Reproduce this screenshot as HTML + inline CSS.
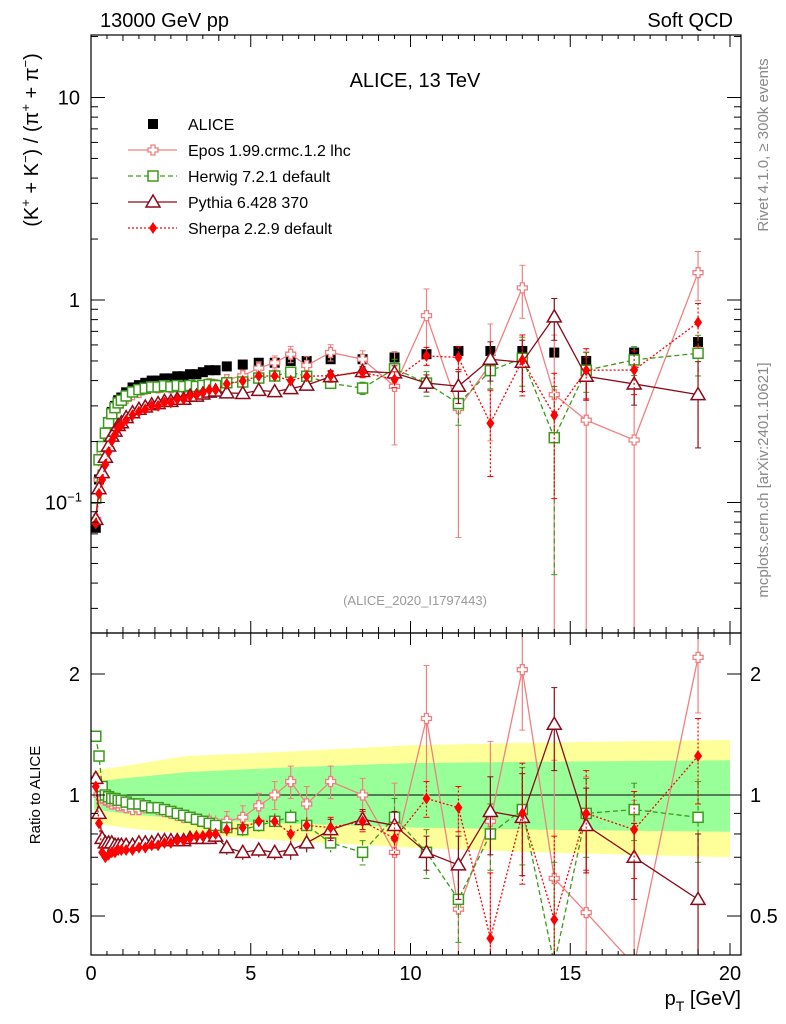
<!DOCTYPE html>
<html><head><meta charset="utf-8"><style>
html,body{margin:0;padding:0;background:#fff;overflow:hidden;width:786px;height:1024px}
svg{display:block}
svg text{font-family:"Liberation Sans",sans-serif}
</style></head><body>
<svg id="c" width="786" height="1024" xmlns="http://www.w3.org/2000/svg">
<text x="100" y="27" font-size="20">13000 GeV pp</text>
<text x="733" y="27" font-size="20" text-anchor="end">Soft QCD</text>
<text x="415" y="87" font-size="20" text-anchor="middle">ALICE, 13 TeV</text>
<text x="415" y="605" font-size="13" fill="#999" text-anchor="middle">(ALICE_2020_I1797443)</text>
<text transform="translate(38,140) rotate(-90)" font-size="20" text-anchor="middle">(K<tspan dy="-8" font-size="13">+</tspan><tspan dy="8"> + K</tspan><tspan dy="-8" font-size="13">−</tspan><tspan dy="8">) / (π</tspan><tspan dy="-8" font-size="13">+</tspan><tspan dy="8"> + π</tspan><tspan dy="-8" font-size="13">−</tspan><tspan dy="8">)</tspan></text>
<text transform="translate(768,145) rotate(-90)" font-size="15" fill="#888" text-anchor="middle">Rivet 4.1.0, ≥ 300k events</text>
<text transform="translate(768,480) rotate(-90)" font-size="15" fill="#888" text-anchor="middle">mcplots.cern.ch [arXiv:2401.10621]</text>
<text transform="translate(40,795) rotate(-90)" font-size="15" text-anchor="middle">Ratio to ALICE</text>
<text x="741" y="1005" font-size="20" text-anchor="end">p<tspan dy="6" font-size="14">T</tspan><tspan dy="-6"> [GeV]</tspan></text>
<g id="g"></g>
</svg>
<script>
const xs=[0.15,0.25,0.35,0.45,0.55,0.65,0.75,0.85,0.95,1.1,1.3,1.5,1.7,1.9,2.1,2.3,2.5,2.7,2.9,3.1,3.3,3.5,3.7,3.9,4.25,4.75,5.25,5.75,6.25,6.75,7.5,8.5,9.5,10.5,11.5,12.5,13.5,14.5,15.5,17,19];
const alice=[0.075,0.13,0.18,0.22,0.25,0.28,0.30,0.32,0.33,0.35,0.37,0.38,0.39,0.40,0.40,0.41,0.41,0.42,0.42,0.43,0.43,0.44,0.45,0.45,0.47,0.48,0.49,0.49,0.50,0.50,0.51,0.51,0.52,0.54,0.56,0.56,0.56,0.55,0.50,0.55,0.62];
const eposR=[1.1,1.0,0.98,0.97,0.96,0.95,0.95,0.94,0.94,0.93,0.92,0.92,0.93,0.93,0.92,0.91,0.90,0.89,0.88,0.88,0.87,0.86,0.86,0.85,0.86,0.88,0.94,1.0,1.08,0.95,1.08,1.0,0.72,1.55,0.52,0.86,2.05,0.62,0.51,0.37,2.2];
const eposE=[0.02,0.02,0.02,0.02,0.02,0.02,0.02,0.02,0.02,0.02,0.02,0.02,0.02,0.02,0.02,0.02,0.02,0.03,0.03,0.03,0.03,0.03,0.04,0.04,0.05,0.06,0.07,0.08,0.1,0.1,0.1,0.1,0.35,0.55,0.4,0.5,0.6,0.6,0.6,0.6,0.6];
const herwigR=[1.4,1.25,1.05,1.0,0.99,0.98,0.98,0.97,0.97,0.96,0.95,0.95,0.94,0.93,0.93,0.92,0.91,0.90,0.89,0.88,0.87,0.86,0.85,0.84,0.83,0.82,0.84,0.86,0.88,0.84,0.76,0.72,0.88,0.72,0.55,0.80,0.92,0.38,0.90,0.92,0.88];
const herwigE=[0.02,0.02,0.02,0.02,0.02,0.02,0.02,0.02,0.02,0.02,0.02,0.02,0.02,0.02,0.02,0.02,0.02,0.02,0.02,0.02,0.02,0.02,0.02,0.02,0.03,0.03,0.03,0.04,0.04,0.04,0.04,0.05,0.1,0.1,0.12,0.15,0.25,0.3,0.2,0.15,0.2];
const pythiaR=[1.1,0.9,0.78,0.76,0.76,0.76,0.75,0.75,0.75,0.75,0.75,0.76,0.76,0.76,0.77,0.77,0.77,0.77,0.77,0.78,0.78,0.78,0.78,0.79,0.74,0.72,0.73,0.72,0.73,0.76,0.82,0.87,0.84,0.72,0.67,0.91,0.88,1.5,0.84,0.70,0.55];
const pythiaE=[0.02,0.02,0.02,0.02,0.02,0.02,0.02,0.02,0.02,0.02,0.02,0.02,0.02,0.02,0.02,0.02,0.02,0.02,0.02,0.02,0.02,0.02,0.02,0.02,0.03,0.03,0.03,0.03,0.04,0.04,0.05,0.05,0.07,0.07,0.12,0.2,0.25,0.35,0.2,0.15,0.25];
const sherpaR=[1.05,0.85,0.72,0.70,0.71,0.72,0.72,0.73,0.73,0.73,0.73,0.74,0.74,0.75,0.75,0.76,0.76,0.77,0.77,0.78,0.79,0.79,0.80,0.80,0.82,0.83,0.86,0.86,0.80,0.84,0.83,0.86,0.78,0.98,0.93,0.44,0.90,0.49,0.90,0.82,1.25];
const sherpaE=[0.02,0.02,0.02,0.02,0.02,0.02,0.02,0.02,0.02,0.02,0.02,0.02,0.02,0.02,0.02,0.02,0.02,0.02,0.02,0.02,0.02,0.02,0.02,0.02,0.03,0.03,0.03,0.03,0.04,0.04,0.05,0.05,0.07,0.1,0.12,0.2,0.3,0.3,0.25,0.2,0.3];
const bandX=[0.1,1,3,6,10,14,20];
const yellowLo=[0.85,0.83,0.80,0.77,0.74,0.72,0.70];
const yellowHi=[1.15,1.18,1.25,1.28,1.33,1.35,1.37];
const greenLo=[0.92,0.90,0.87,0.85,0.83,0.82,0.81];
const greenHi=[1.08,1.10,1.14,1.17,1.20,1.21,1.22];
const xTicks=[0,5,10,15,20];
const ratioTicks=[0.5,1,2];

const L=91,R=741,T1=35,B1=633,T2=633,B2=955;
const clamp=(v,a,b)=>Math.min(b,Math.max(a,v));
const X=v=>L+v*31.95;
const Y1=v=>clamp(300-Math.log10(Math.max(v,1e-6))*202.5,T1-10,B1+10);
const Y2=v=>clamp(795-Math.log10(Math.max(v,1e-6))*402,T2-10,B2+10);
const NS="http://www.w3.org/2000/svg";
const g=document.getElementById('g');
function mk(t,a,parent){const e=document.createElementNS(NS,t);for(const k in a)e.setAttribute(k,a[k]);(parent||g).appendChild(e);return e;}

const defs=mk('defs',{});
const c1=mk('clipPath',{id:'c1'},defs);mk('rect',{x:L,y:T1,width:R-L,height:B1-T1},c1);
const c2=mk('clipPath',{id:'c2'},defs);mk('rect',{x:L,y:T2,width:R-L,height:B2-T2},c2);

function band(lo,hi,col,name){let p='';bandX.forEach((x,i)=>p+=(i?'L':'M')+X(x)+','+Y2(hi[i]));for(let i=bandX.length-1;i>=0;i--)p+='L'+X(bandX[i])+','+Y2(lo[i]);const e=mk('path',{d:p+'Z',fill:col,'clip-path':'url(#c2)'});

}
band(yellowLo,yellowHi,'#ffff99','uncertainty-band-outer');
band(greenLo,greenHi,'#99ff99','uncertainty-band-inner');
const one=mk('line',{x1:L,x2:R,y1:Y2(1),y2:Y2(1),stroke:'#000','stroke-width':1});



function marker(type,x,y,col,parent){
 if(type==='sq')return mk('rect',{x:x-5,y:y-5,width:10,height:10,fill:'#000'},parent);
 if(type==='osq')return mk('rect',{x:x-5,y:y-5,width:10,height:10,fill:'#fff',stroke:col,'stroke-width':1.5},parent);
 if(type==='cross')return mk('path',{d:`M${x-2},${y-5}h4v3h3v4h-3v3h-4v-3h-3v-4h3z`,fill:'#fff',stroke:col,'stroke-width':1.3},parent);
 if(type==='tri')return mk('path',{d:`M${x},${y-7}L${x+7},${y+5}L${x-7},${y+5}Z`,fill:'#fff',stroke:col,'stroke-width':1.5},parent);
 if(type==='dia')return mk('path',{d:`M${x},${y-6}L${x+4},${y}L${x},${y+6}L${x-4},${y}Z`,fill:col},parent);
}
const models=[
 {n:'epos',r:eposR,e:eposE,col:'#f08080',m:'cross',dash:''},
 {n:'herwig',r:herwigR,e:herwigE,col:'#3a9a1a',m:'osq',dash:'5,3'},
 {n:'pythia',r:pythiaR,e:pythiaE,col:'#8b0a1a',m:'tri',dash:''},
 {n:'sherpa',r:sherpaR,e:sherpaE,col:'#ff0000',m:'dia',dash:'2,2'}];
function drawSeries(panel){
 const Y=panel===1?Y1:Y2;const clip=panel===1?'url(#c1)':'url(#c2)';
 models.forEach(md=>{
  const grp=mk('g',{'clip-path':clip});
  
  
  const val=i=>panel===1?md.r[i]*alice[i]:md.r[i];
  let p='';xs.forEach((x,i)=>p+=(i?'L':'M')+X(x)+','+Y(val(i)));
  mk('path',{d:p,fill:'none',stroke:md.col,'stroke-width':1.3,'stroke-dasharray':md.dash},grp);
  xs.forEach((x,i)=>{const v=val(i),e=md.e[i]*(panel===1?alice[i]:1);
   const lo=Math.max(v-e,0.001);
   mk('line',{x1:X(x),x2:X(x),y1:Y(v+e),y2:Y(lo),stroke:md.col,'stroke-width':1.2,'stroke-dasharray':md.dash},grp);
   if(e>0.04&&panel===2||e>0.02&&panel===1){mk('line',{x1:X(x)-3,x2:X(x)+3,y1:Y(v+e),y2:Y(v+e),stroke:md.col},grp);mk('line',{x1:X(x)-3,x2:X(x)+3,y1:Y(lo),y2:Y(lo),stroke:md.col},grp);}
   const mm=marker(md.m,X(x),Y(v),md.col,grp);
   
   
  });
 });
}
const ag=mk('g',{'clip-path':'url(#c1)'});


xs.forEach((x,i)=>{const m=marker('sq',X(x),Y1(alice[i]),'#000',ag);
 
 });
drawSeries(1);drawSeries(2);

mk('rect',{x:L,y:T1,width:R-L,height:B1-T1,fill:'none',stroke:'#000','stroke-width':1.2});
mk('rect',{x:L,y:T2,width:R-L,height:B2-T2,fill:'none',stroke:'#000','stroke-width':1.2});
for(let v=0;v<=20;v+=1){const maj=v%5===0,len=maj?12:6;
 [[T1,1],[B1,-1],[T2,1],[B2,-1]].forEach(([y,d])=>mk('line',{x1:X(v),x2:X(v),y1:y,y2:y+d*len,stroke:'#000'}));}
for(let v=0.5;v<20;v+=1){[[T1,1],[B1,-1],[T2,1],[B2,-1]].forEach(([y,d])=>mk('line',{x1:X(v),x2:X(v),y1:y,y2:y+d*4,stroke:'#000'}));}
xTicks.forEach(v=>{const t=mk('text',{x:X(v),y:980,'font-size':20,'text-anchor':'middle'});t.textContent=v;
 
 });
for(let d=-2;d<=1;d++)for(let k=1;k<10;k++){const v=k*Math.pow(10,d),y=300-Math.log10(v)*202.5;if(y<T1||y>B1)continue;const len=k===1?14:7;
 mk('line',{x1:L,x2:L+len,y1:y,y2:y,stroke:'#000'});mk('line',{x1:R,x2:R-len,y1:y,y2:y,stroke:'#000'});}
[[10,'10'],[1,'1']].forEach(([v,s])=>{const t=mk('text',{x:80,y:Y1(v)+7,'font-size':20,'text-anchor':'end'});t.textContent=s;
 
 });
const tm=mk('text',{x:82,y:Y1(0.1)+7,'font-size':20,'text-anchor':'end'});tm.innerHTML='10<tspan dy="-8" font-size="13">−1</tspan>';


[0.4,0.5,0.6,0.7,0.8,0.9,1,2].forEach(v=>{const y=795-Math.log10(v)*402;if(y>B2)return;const len=(v===1||v===2||v===0.5)?14:7;
 mk('line',{x1:L,x2:L+len,y1:y,y2:y,stroke:'#000'});mk('line',{x1:R,x2:R-len,y1:y,y2:y,stroke:'#000'});});
ratioTicks.forEach(v=>{[[80,'end'],[750,'start']].forEach(([x,a])=>{const t=mk('text',{x:x,y:Y2(v)+7,'font-size':20,'text-anchor':a});t.textContent=v;
 
 });});
const lg=mk('g',{});


const ln=[['ALICE',null],['Epos 1.99.crmc.1.2 lhc',models[0]],['Herwig 7.2.1 default',models[1]],['Pythia 6.428 370',models[2]],['Sherpa 2.2.9 default',models[3]]];
ln.forEach(([s,md],i)=>{const y=124+i*26;const eg=mk('g',{},lg);
 
 
 if(md){mk('line',{x1:128,x2:177,y1:y,y2:y,stroke:md.col,'stroke-width':1.3,'stroke-dasharray':md.dash},eg);marker(md.m,153,y,md.col,eg);}
 else marker('sq',153,y,'#000',eg);
 const t=mk('text',{x:188,y:y+6,'font-size':16},eg);t.textContent=s;});
</script>
</body></html>
